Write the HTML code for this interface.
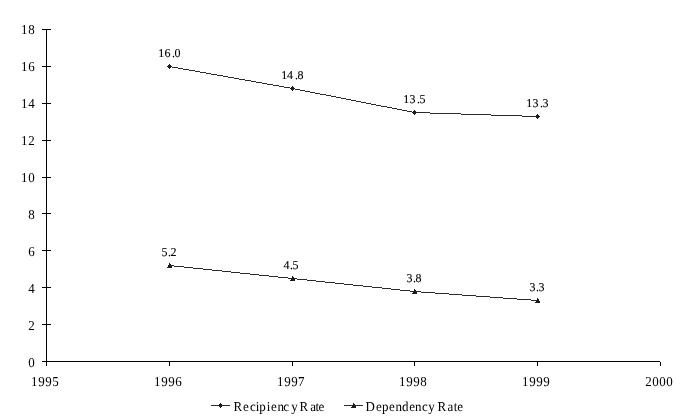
<!DOCTYPE html>
<html lang="en">
<head>
<meta charset="utf-8">
<title>Recipiency and Dependency Rates, 1996-1999</title>
<style>
html,body{margin:0;padding:0;background:#fff;}
body{width:690px;height:418px;overflow:hidden;}
svg{display:block;}
text{font-family:"Liberation Serif","DejaVu Serif",serif;fill:#000;white-space:pre;text-rendering:geometricPrecision;}
.f13{font-size:13px;}
.f12{font-size:12px;stroke:#000;stroke-width:0.1px;}
.ax{stroke:#000;stroke-width:1;shape-rendering:crispEdges;fill:none;}
.sl{fill:#2b2b2b;stroke:none;shape-rendering:crispEdges;}
.lg{stroke:#2b2b2b;stroke-width:1;shape-rendering:crispEdges;fill:none;}
.mk{fill:#1c1c1c;stroke:none;shape-rendering:crispEdges;}
</style>
</head>
<body>
<svg width="690" height="418" viewBox="0 0 690 418">
<rect x="0" y="0" width="690" height="418" fill="#ffffff"/>
<g class="ax">
<line x1="46.5" y1="29" x2="46.5" y2="366"/>
<line x1="42" y1="361.5" x2="660" y2="361.5"/>
<line x1="42" y1="324.5" x2="51" y2="324.5"/>
<line x1="42" y1="287.5" x2="51" y2="287.5"/>
<line x1="42" y1="250.5" x2="51" y2="250.5"/>
<line x1="42" y1="213.5" x2="51" y2="213.5"/>
<line x1="42" y1="177.5" x2="51" y2="177.5"/>
<line x1="42" y1="140.5" x2="51" y2="140.5"/>
<line x1="42" y1="103.5" x2="51" y2="103.5"/>
<line x1="42" y1="66.5" x2="51" y2="66.5"/>
<line x1="42" y1="29.5" x2="51" y2="29.5"/>
<line x1="169.5" y1="362" x2="169.5" y2="366"/>
<line x1="292.5" y1="362" x2="292.5" y2="366"/>
<line x1="414.5" y1="362" x2="414.5" y2="366"/>
<line x1="537.5" y1="362" x2="537.5" y2="366"/>
<line x1="660.5" y1="362" x2="660.5" y2="366"/>
</g>
<g>
<text class="f13" transform="translate(0 367) scale(1 1.045)" x="28.25" y="0">0</text>
<text class="f13" transform="translate(0 330) scale(1 1.045)" x="28.32" y="0">2</text>
<text class="f13" transform="translate(0 293) scale(1 1.045)" x="28.22" y="0">4</text>
<text class="f13" transform="translate(0 256) scale(1 1.045)" x="28.16" y="0">6</text>
<text class="f13" transform="translate(0 219) scale(1 1.045)" x="28.25" y="0">8</text>
<text class="f13" transform="translate(0 182) scale(1 1.045)" x="21.07 28.25" y="0">10</text>
<text class="f13" transform="translate(0 145) scale(1 1.045)" x="21.07 28.32" y="0">12</text>
<text class="f13" transform="translate(0 108) scale(1 1.045)" x="21.07 28.22" y="0">14</text>
<text class="f13" transform="translate(0 71) scale(1 1.045)" x="21.07 28.16" y="0">16</text>
<text class="f13" transform="translate(0 34) scale(1 1.045)" x="21.07 28.25" y="0">18</text>
</g>
<g>
<text class="f13" transform="translate(0 386) scale(1 1.045)" x="31.07 38.31 45.31 52.13" y="0">1995</text>
<text class="f13" transform="translate(0 386) scale(1 1.045)" x="154.07 161.31 168.31 175.16" y="0">1996</text>
<text class="f13" transform="translate(0 386) scale(1 1.045)" x="277.07 284.31 291.31 298.01" y="0">1997</text>
<text class="f13" transform="translate(0 386) scale(1 1.045)" x="399.07 406.31 413.31 420.25" y="0">1998</text>
<text class="f13" transform="translate(0 386) scale(1 1.045)" x="522.07 529.31 536.31 543.31" y="0">1999</text>
<text class="f13" transform="translate(0 386) scale(1 1.045)" x="645.32 652.25 659.25 666.25" y="0">2000</text>
</g>
<path class="sl" d="M169 66h3v1h-3zM172 67h6v1h-6zM178 68h5v1h-5zM183 69h6v1h-6zM189 70h6v1h-6zM195 71h5v1h-5zM200 72h6v1h-6zM206 73h5v1h-5zM211 74h6v1h-6zM217 75h6v1h-6zM223 76h5v1h-5zM228 77h6v1h-6zM234 78h5v1h-5zM239 79h6v1h-6zM245 80h6v1h-6zM251 81h5v1h-5zM256 82h6v1h-6zM262 83h5v1h-5zM267 84h6v1h-6zM273 85h6v1h-6zM279 86h5v1h-5zM284 87h6v1h-6zM290 88h3v1h-3zM292 88h3v1h-3zM295 89h5v1h-5zM300 90h5v1h-5zM305 91h5v1h-5zM310 92h5v1h-5zM315 93h5v1h-5zM320 94h6v1h-6zM326 95h5v1h-5zM331 96h5v1h-5zM336 97h5v1h-5zM341 98h5v1h-5zM346 99h5v1h-5zM351 100h5v1h-5zM356 101h5v1h-5zM361 102h5v1h-5zM366 103h5v1h-5zM371 104h5v1h-5zM376 105h5v1h-5zM381 106h6v1h-6zM387 107h5v1h-5zM392 108h5v1h-5zM397 109h5v1h-5zM402 110h5v1h-5zM407 111h5v1h-5zM412 112h3v1h-3zM414 112h16v1h-16zM430 113h31v1h-31zM461 114h30v1h-30zM491 115h31v1h-31zM522 116h16v1h-16z"/>
<path class="mk" d="M169 64h1v1h-1zM168 65h3v1h-3zM167 66h5v1h-5zM168 67h3v1h-3zM169 68h1v1h-1z"/>
<path class="mk" d="M292 86h1v1h-1zM291 87h3v1h-3zM290 88h5v1h-5zM291 89h3v1h-3zM292 90h1v1h-1z"/>
<path class="mk" d="M414 110h1v1h-1zM413 111h3v1h-3zM412 112h5v1h-5zM413 113h3v1h-3zM414 114h1v1h-1z"/>
<path class="mk" d="M537 114h1v1h-1zM536 115h3v1h-3zM535 116h5v1h-5zM536 117h3v1h-3zM537 118h1v1h-1z"/>
<g>
<text class="f12" x="158.33 164.42 172.00 174.50" y="57">16.0</text>
<text class="f12" x="281.33 286.98 295.00 297.50" y="79">14.8</text>
<text class="f12" x="403.33 409.45 417.00 419.39" y="103">13.5</text>
<text class="f12" x="526.33 532.45 540.00 542.45" y="107">13.3</text>
</g>
<path class="sl" d="M169 265h5v1h-5zM174 266h10v1h-10zM184 267h9v1h-9zM193 268h10v1h-10zM203 269h9v1h-9zM212 270h10v1h-10zM222 271h9v1h-9zM231 272h9v1h-9zM240 273h10v1h-10zM250 274h9v1h-9zM259 275h10v1h-10zM269 276h9v1h-9zM278 277h10v1h-10zM288 278h5v1h-5zM292 278h5v1h-5zM297 279h10v1h-10zM307 280h9v1h-9zM316 281h9v1h-9zM325 282h10v1h-10zM335 283h9v1h-9zM344 284h9v1h-9zM353 285h10v1h-10zM363 286h9v1h-9zM372 287h10v1h-10zM382 288h9v1h-9zM391 289h9v1h-9zM400 290h10v1h-10zM410 291h5v1h-5zM414 291h7v1h-7zM421 292h14v1h-14zM435 293h14v1h-14zM449 294h13v1h-13zM462 295h14v1h-14zM476 296h14v1h-14zM490 297h13v1h-13zM503 298h14v1h-14zM517 299h14v1h-14zM531 300h7v1h-7z"/>
<path class="mk" d="M169 263h1v1h-1zM169 264h2v1h-2zM168 265h3v1h-3zM168 266h4v1h-4zM167 267h5v1h-5z"/>
<path class="mk" d="M292 276h1v1h-1zM292 277h2v1h-2zM291 278h3v1h-3zM291 279h4v1h-4zM290 280h5v1h-5z"/>
<path class="mk" d="M414 289h1v1h-1zM414 290h2v1h-2zM413 291h3v1h-3zM413 292h4v1h-4zM412 293h5v1h-5z"/>
<path class="mk" d="M537 298h1v1h-1zM537 299h2v1h-2zM536 300h3v1h-3zM536 301h4v1h-4zM535 302h5v1h-5z"/>
<g>
<text class="f12" x="161.39 168.00 170.57" y="256">5.2</text>
<text class="f12" x="283.48 290.00 292.39" y="269">4.5</text>
<text class="f12" x="406.45 413.00 415.50" y="282">3.8</text>
<text class="f12" x="529.45 536.00 538.45" y="291">3.3</text>
</g>
<line class="lg" x1="211" y1="405.5" x2="230" y2="405.5"/>
<path class="mk" d="M220 403h1v1h-1zM219 404h3v1h-3zM218 405h5v1h-5zM219 406h3v1h-3zM220 407h1v1h-1z"/>
<text class="f13" transform="translate(0 411) scale(1 1.045)" x="233.49 243.09 250.07 255.68 259.15 266.68 271.09 277.45 283.32 291.20 297.70 299.49 310.23 315.42 318.59" y="0">Recipiency Rate</text>
<line class="lg" x1="344" y1="405.5" x2="363" y2="405.5"/>
<path class="mk" d="M353 403h1v1h-1zM353 404h2v1h-2zM352 405h3v1h-3zM352 406h4v1h-4zM351 407h5v1h-5z"/>
<text class="f13" transform="translate(0 411) scale(1 1.045)" x="365.38 376.09 381.90 389.09 395.50 401.99 409.19 414.90 422.07 428.20 434.70 437.49 447.48 453.77 457.19" y="0">Dependency Rate</text>
</svg>
</body>
</html>
